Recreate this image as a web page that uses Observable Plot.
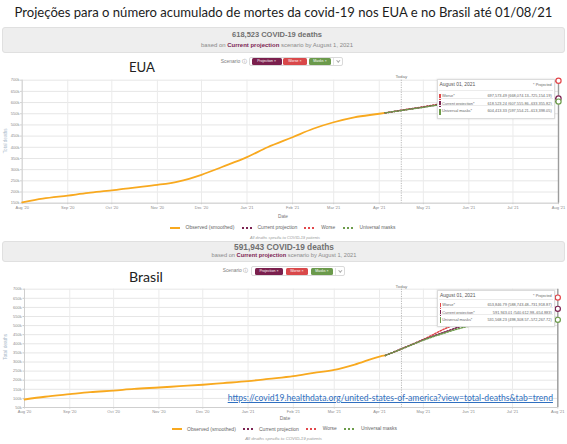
<!DOCTYPE html>
<html lang="pt">
<head>
<meta charset="utf-8">
<title>Projeções de mortes por covid-19 — EUA e Brasil</title>
<script src="https://cdn.jsdelivr.net/npm/d3@7"></script>
<script src="https://cdn.jsdelivr.net/npm/@observablehq/plot@0.6"></script>
<style>
  html, body { margin: 0; padding: 0; background: #fff; }
  #page { position: relative; width: 567px; height: 444px; overflow: hidden; background: #fff;
          font-family: "Liberation Sans", Arial, sans-serif; }
</style>
</head>
<body>
<div id="page"></div>
<script>
// ---------------- data ----------------
const monthTicks = ["2020-08-01","2020-09-01","2020-10-01","2020-11-01","2020-12-01","2021-01-01",
                    "2021-02-01","2021-03-01","2021-04-01","2021-05-01","2021-06-01","2021-07-01","2021-08-01"];
const todayDate = "2021-04-16";
const scenarioNames = ["Worse", "Current projection", "Universal masks"];

// United States: observed cumulative deaths (smoothed)
const usObsDates = ["2020-08-01","2020-08-15","2020-09-01","2020-09-15","2020-10-01","2020-10-15","2020-11-01",
                    "2020-11-15","2020-12-01","2020-12-15","2021-01-01","2021-01-15","2021-02-01","2021-02-15",
                    "2021-03-01","2021-03-15","2021-04-01","2021-04-05"];
const usObsDeaths = [154000,170000,184000,196000,207000,219000,232000,247000,277000,312000,356000,400000,
                     445000,483000,512000,534000,550000,554000];
// United States: projections to 1 Aug 2021
const usProjDates = ["2021-04-05","2021-04-16","2021-05-01","2021-05-10","2021-06-01","2021-07-01","2021-08-01"];
const usWorse   = [554000,565500,581000,591000,620000,665000,697573.49];
const usCurrent = [554000,565000,580000,589000,604000,614000,618523.24];
const usMasks   = [554000,564500,579000,588000,598000,603000,604413.33];
const usLow  = [668074.13, 607555.86, 597554.21];
const usHigh = [725154.19, 633355.82, 613398.05];
const usYTicks = [150000,200000,250000,300000,350000,400000,450000,500000,550000,600000,650000,700000];

// Brazil: observed cumulative deaths (smoothed)
const brObsDates = usObsDates;
const brObsDeaths = [94000,109000,123000,134000,143000,152000,160000,167000,175000,184000,195000,207000,
                     222000,240000,257000,286000,330000,336000];
// Brazil: projections to 1 Aug 2021
const brProjDates = ["2021-04-05","2021-04-16","2021-05-01","2021-05-15","2021-06-01","2021-07-01","2021-08-01"];
const brWorse   = [336000,372000,424000,480000,535000,610000,653846.79];
const brCurrent = [336000,372000,422000,463000,510000,565000,591943.01];
const brMasks   = [336000,371000,420000,458000,497000,522000,531568.23];
const brLow  = [588743.48, 540612.98, 498308.57];
const brHigh = [731918.87, 654883, 572267.72];
const brYTicks = [50000,100000,150000,200000,250000,300000,350000,400000,450000,500000,550000,600000,650000,700000];

const legendLabels = ["Observed (smoothed)", "Current projection", "Worse", "Universal masks"];
const chipLabels = ["Projection ×", "Worse ×", "Masks ×"];
const sourceUrl = "https://covid19.healthdata.org/united-states-of-america?view=total-deaths&tab=trend";

// ---------------- style ----------------
const SANS = '"Liberation Sans", Arial, sans-serif';
const HUMAN = 'Lato, "Open Sans", sans-serif';
const OBS = "#f8a91f", CUR = "#7c2352", WORSE = "#e2474b", MASKS = "#6d9c4b";
const scenarioColors = [WORSE, CUR, MASKS];
const chipColors = ["#7a1f4d", "#d9484a", "#6b9a4b"];
const fmtVal = d3.format(",.2~f");
const fmtInt = d3.format(",.0f");
const parse = s => new Date(s + "T00:00:00Z");
const last = a => a[a.length - 1];

const page = document.getElementById("page");
function box(css, html) {
  const e = document.createElement("div");
  Object.assign(e.style, {position: "absolute", boxSizing: "border-box"}, css);
  if (html != null) e.innerHTML = html;
  page.appendChild(e);
  return e;
}
// Text line; y is the middle of the capitals. Give either a font size or a width to fill.
function label(html, {x, y, w, size, anchor = "start", family = SANS, color = "#555", weight = "normal",
                      italic = false, css = {}, rotate = 0}) {
  const e = box(Object.assign({whiteSpace: "nowrap", fontFamily: family, color, fontWeight: weight,
    fontStyle: italic ? "italic" : "normal", fontSize: "10px", lineHeight: "1.2", left: "0px", top: "0px"}, css), html);
  let s = size;
  if (s == null) { s = 10 * w / e.getBoundingClientRect().width; }
  e.style.fontSize = s + "px";
  const w1 = e.getBoundingClientRect().width;
  e.style.left = (anchor === "middle" ? x - w1 / 2 : anchor === "end" ? x - w1 : x) + "px";
  e.style.top = (y - 0.6 * s) + "px";
  if (rotate) { e.style.transformOrigin = "50% 50%"; e.style.transform = "rotate(" + rotate + "deg)"; }
  return e;
}

// ---------------- chart ----------------
function chart({top, height, margin, yDomain, yTicks, obsDates, obsDeaths, projDates, scen, todayDy}) {
  const xTicks = monthTicks.map(parse);
  const obs = obsDates.map((d, i) => ({date: parse(d), deaths: obsDeaths[i]}));
  const lines = scen.map(vals => projDates.map((d, i) => ({date: parse(d), deaths: vals[i]})));
  const today = parse(todayDate);
  const end = last(xTicks);
  const svg = Plot.plot({
    width: 567, height,
    marginTop: margin[0], marginRight: margin[1], marginBottom: margin[2], marginLeft: margin[3],
    style: {background: "transparent", fontFamily: SANS, fontSize: "4px", overflow: "visible"},
    x: {type: "utc", domain: [xTicks[0], end]},
    y: {domain: yDomain},
    marks: [
      Plot.gridY(yTicks, {stroke: "#e6e6e6", strokeOpacity: 1}),
      Plot.gridX(xTicks, {stroke: "#ebebeb", strokeOpacity: 1}),
      Plot.axisY(yTicks, {tickFormat: d => d / 1000 + "k", tickSize: 1.5, tickPadding: 1.2, fill: "#8a8a8a", stroke: "#c8c8c8", label: null}),
      Plot.axisX(xTicks, {tickFormat: d3.utcFormat("%b '%y"), tickSize: 1.5, tickPadding: 1.6, fill: "#8a8a8a", stroke: "#c8c8c8", label: null}),
      Plot.ruleX([xTicks[0]], {stroke: "#cfcfcf"}),
      Plot.ruleY([yDomain[0]], {stroke: "#cfcfcf"}),
      Plot.ruleX([today], {stroke: "#b8b8b8", strokeDasharray: "1.2,1.2"}),
      Plot.text([today], {x: d => d, frameAnchor: "top", dy: todayDy, text: () => "Today", fill: "#777", fontSize: 4.4}),
      Plot.lineY(obs, {x: "date", y: "deaths", stroke: OBS, strokeWidth: 1.8, curve: "monotone-x"}),
      ...lines.map((l, k) => Plot.lineY(l, {x: "date", y: "deaths", stroke: scenarioColors[k], strokeWidth: 1.5,
                                            strokeDasharray: "1.4,1.6", curve: "monotone-x"})),
      Plot.ruleX([end], {stroke: "#9c9c9c", strokeWidth: 1.4}),
      ...lines.map((l, k) => Plot.dot([last(l)], {x: "date", y: "deaths", r: 2.6, fill: "white",
                                                  stroke: scenarioColors[k], strokeWidth: 1.2}))
    ]
  });
  Object.assign(svg.style, {position: "absolute", left: "0px", top: top + "px"});
  page.appendChild(svg);
}

// Header band with the headline number
function header({top, h, cx, y1, w1, y2, w2, current}) {
  box({left: "2px", top: top + "px", width: "563px", height: h + "px", background: "#eeeeee",
       border: "1px solid #e0e0e0", borderRadius: "3px"});
  label(fmtInt(current) + " COVID-19 deaths", {x: cx, y: y1, w: w1, anchor: "middle", color: "#707070", weight: "bold"});
  label('based on <b style="color:' + CUR + '">Current projection</b> scenario by August 1, 2021',
        {x: cx, y: y2, w: w2, anchor: "middle", color: "#8a8a8a"});
}

// Scenario selector chips
function chips({y, sx, sw, bx, bw, bh, xs}) {
  label("Scenario ⓘ", {x: sx, y, w: sw, color: "#7d7d7d"});
  box({left: bx + "px", top: (y - bh / 2) + "px", width: bw + "px", height: bh + "px",
       border: "1px solid #dadada", borderRadius: "2px", background: "#fff"});
  chipLabels.forEach((t, i) => {
    box({left: xs[i][0] + "px", top: (y - 3.3) + "px", width: (xs[i][1] - xs[i][0]) + "px", height: "6.6px",
         background: chipColors[i], color: "#fff", borderRadius: "1.5px", fontSize: "3.6px", fontFamily: SANS,
         display: "flex", alignItems: "center", justifyContent: "center", whiteSpace: "nowrap"}, t);
  });
  box({left: (bx + bw - 10) + "px", top: (y - bh / 2 + 1.5) + "px", width: "0px", height: (bh - 3) + "px",
       borderLeft: "1px solid #e3e3e3"});
  box({left: (bx + bw - 6.5) + "px", top: (y - 2.2) + "px", width: "2.6px", height: "2.6px",
       borderRight: "0.8px solid #aaa", borderBottom: "0.8px solid #aaa", transform: "rotate(45deg)"});
}

// Hover card for 1 Aug 2021
function card({left, top, w, h, rows, values, lows, highs}) {
  box({left: left + "px", top: top + "px", width: w + "px", height: h + "px", background: "#fff",
       border: "1px solid #dcdcdc", boxShadow: "0 0 2px rgba(0,0,0,0.15)"});
  label("August 01, 2021", {x: left + 2.6, y: top + 6, size: 4.9, color: "#555"});
  label("* Projected", {x: left + w - 3.3, y: top + 6, size: 3.8, anchor: "end", color: "#666"});
  rows.forEach((ry, i) => {
    box({left: (left + 2) + "px", top: (top + ry - 6.2) + "px", width: (w - 4) + "px", height: "0px",
         borderTop: "0.6px solid #ececec"});
    box({left: (left + 2.3) + "px", top: (top + ry - 3) + "px", width: "1.7px", height: "6px", background: scenarioColors[i]});
    label(scenarioNames[i] + "*", {x: left + 5, y: top + ry, size: 3.9, color: "#666"});
    label(fmtVal(values[i]) + " (" + fmtVal(lows[i]) + "–" + fmtVal(highs[i]) + ")",
          {x: left + w - 3.3, y: top + ry, size: 3.9, anchor: "end", color: "#666"});
  });
}

function legend({y, dx, fy, fw, fcx}) {
  const sx = [171.7, 243, 305.7, 344];
  const tx = [[187, 49], [259, 40], [322.7, 14], [361, 36]];
  const cols = [OBS, CUR, WORSE, MASKS];
  cols.forEach((c, i) => {
    if (i === 0) box({left: (sx[i] + dx) + "px", top: (y - 1) + "px", width: "10px", height: "2px", background: c});
    else box({left: (sx[i] + dx) + "px", top: (y - 1) + "px", width: "10px", height: "0px", borderTop: "2px dotted " + c});
    label(legendLabels[i], {x: tx[i][0] + dx, y, w: tx[i][1], color: "#666"});
  });
  label("All deaths specific to COVID-19 patients", {x: fcx, y: fy, w: fw, anchor: "middle", color: "#999", italic: true});
}

// ---------------- page ----------------
label("Projeções para o número acumulado de mortes da covid-19 nos EUA e no Brasil até 01/08/21",
      {x: 283.5, y: 12.5, w: 538, anchor: "middle", family: HUMAN, color: "#1c1c1c"});

// EUA panel
header({top: 27, h: 26, cx: 277, y1: 34.5, w1: 90, y2: 45.5, w2: 152, current: last(usCurrent)});
chips({y: 61.5, sx: 220.7, sw: 26, bx: 249, bw: 94, bh: 9.5,
       xs: [[251.7, 281.7], [283.3, 306.7], [309.3, 330.7]]});
chart({top: 70, height: 145, margin: [9.7, 9, 12.3, 21.7], yDomain: [150000, 700000], yTicks: usYTicks,
       obsDates: usObsDates, obsDeaths: usObsDeaths, projDates: usProjDates,
       scen: [usWorse, usCurrent, usMasks], todayDy: -5.5});
label("EUA", {x: 129, y: 68, w: 26, family: HUMAN, color: "#222"});
label("Total deaths", {x: 5.5, y: 141, w: 25, anchor: "middle", color: "#a9b9c9", rotate: -90});
card({left: 437, top: 79, w: 118, h: 39.5, rows: [17.5, 25, 32.5],
      values: [last(usWorse), last(usCurrent), last(usMasks)], lows: usLow, highs: usHigh});
label("Date", {x: 283, y: 216.5, w: 10, anchor: "middle", color: "#777"});
legend({y: 227.5, dx: -1.5, fy: 238, fw: 70, fcx: 285});

// Brasil panel
header({top: 241, h: 21, cx: 284, y1: 247, w1: 100, y2: 255.5, w2: 145, current: last(brCurrent)});
chips({y: 271.3, sx: 222.7, sw: 25.3, bx: 251, bw: 94, bh: 10,
       xs: [[254.7, 283.3], [286, 308], [310.7, 333.3]]});
chart({top: 279, height: 137, margin: [9.7, 9.7, 9, 24], yDomain: [50000, 700000], yTicks: brYTicks,
       obsDates: brObsDates, obsDeaths: brObsDeaths, projDates: brProjDates,
       scen: [brWorse, brCurrent, brMasks], todayDy: -4.7});
label("Brasil", {x: 129, y: 276.7, w: 34, family: HUMAN, color: "#222"});
label("Total deaths", {x: 6, y: 347, w: 26, anchor: "middle", color: "#a9b9c9", rotate: -90});
card({left: 437.3, top: 290, w: 117.7, h: 36.7, rows: [15.6, 22.9, 30.2],
      values: [last(brWorse), last(brCurrent), last(brMasks)], lows: brLow, highs: brHigh});
label("Date", {x: 285, y: 419.3, w: 10.5, anchor: "middle", color: "#777"});
legend({y: 429.3, dx: 0, fy: 438.7, fw: 77, fcx: 283.5});

label(sourceUrl, {x: 227.7, y: 398, w: 325.6, family: HUMAN, color: "#2f6fc0", css: {textDecoration: "underline"}});
</script>
</body>
</html>
